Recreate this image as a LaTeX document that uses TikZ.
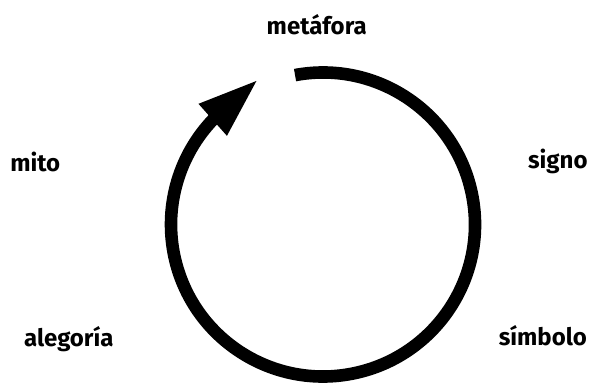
\documentclass[tikz,border=0pt]{standalone}
\usepackage{fontspec}
\setmainfont{Fira Sans}
\usetikzlibrary{arrows.meta}

\begin{document}
\begin{tikzpicture}[x=1pt, y=1pt,
        every node/.style={font=\bfseries\fontsize{24}{28}\selectfont,
            inner sep=0pt, anchor=base},
        ring/.style={line width=12.6pt}]
      \useasboundingbox (0,0) rectangle (593,383);
      \coordinate (C) at (323,158.5);
      % labels around the cycle
      \node (metafora) at (316.7,348) {metáfora};
      \node (mito) at (35.2,211.3) {mito};
      \node (signo) at (557.8,214) {signo};
      \node (alegoria) at (68.8,36.3) {alegoría};
      \node (simbolo) at (542.8,37.3) {símbolo};
      % the cycle
      \draw[ring] ([shift={(100.6:152)}]C) arc[start angle=100.6,
            end angle=-223.8, radius=152] coordinate (tail);
      \coordinate (tip) at (258.3,303.7);
      \draw[ring, -{Triangle[length=61pt, width=38.7pt]}] (tail) -- (tip);
    \end{tikzpicture}
\end{document}
